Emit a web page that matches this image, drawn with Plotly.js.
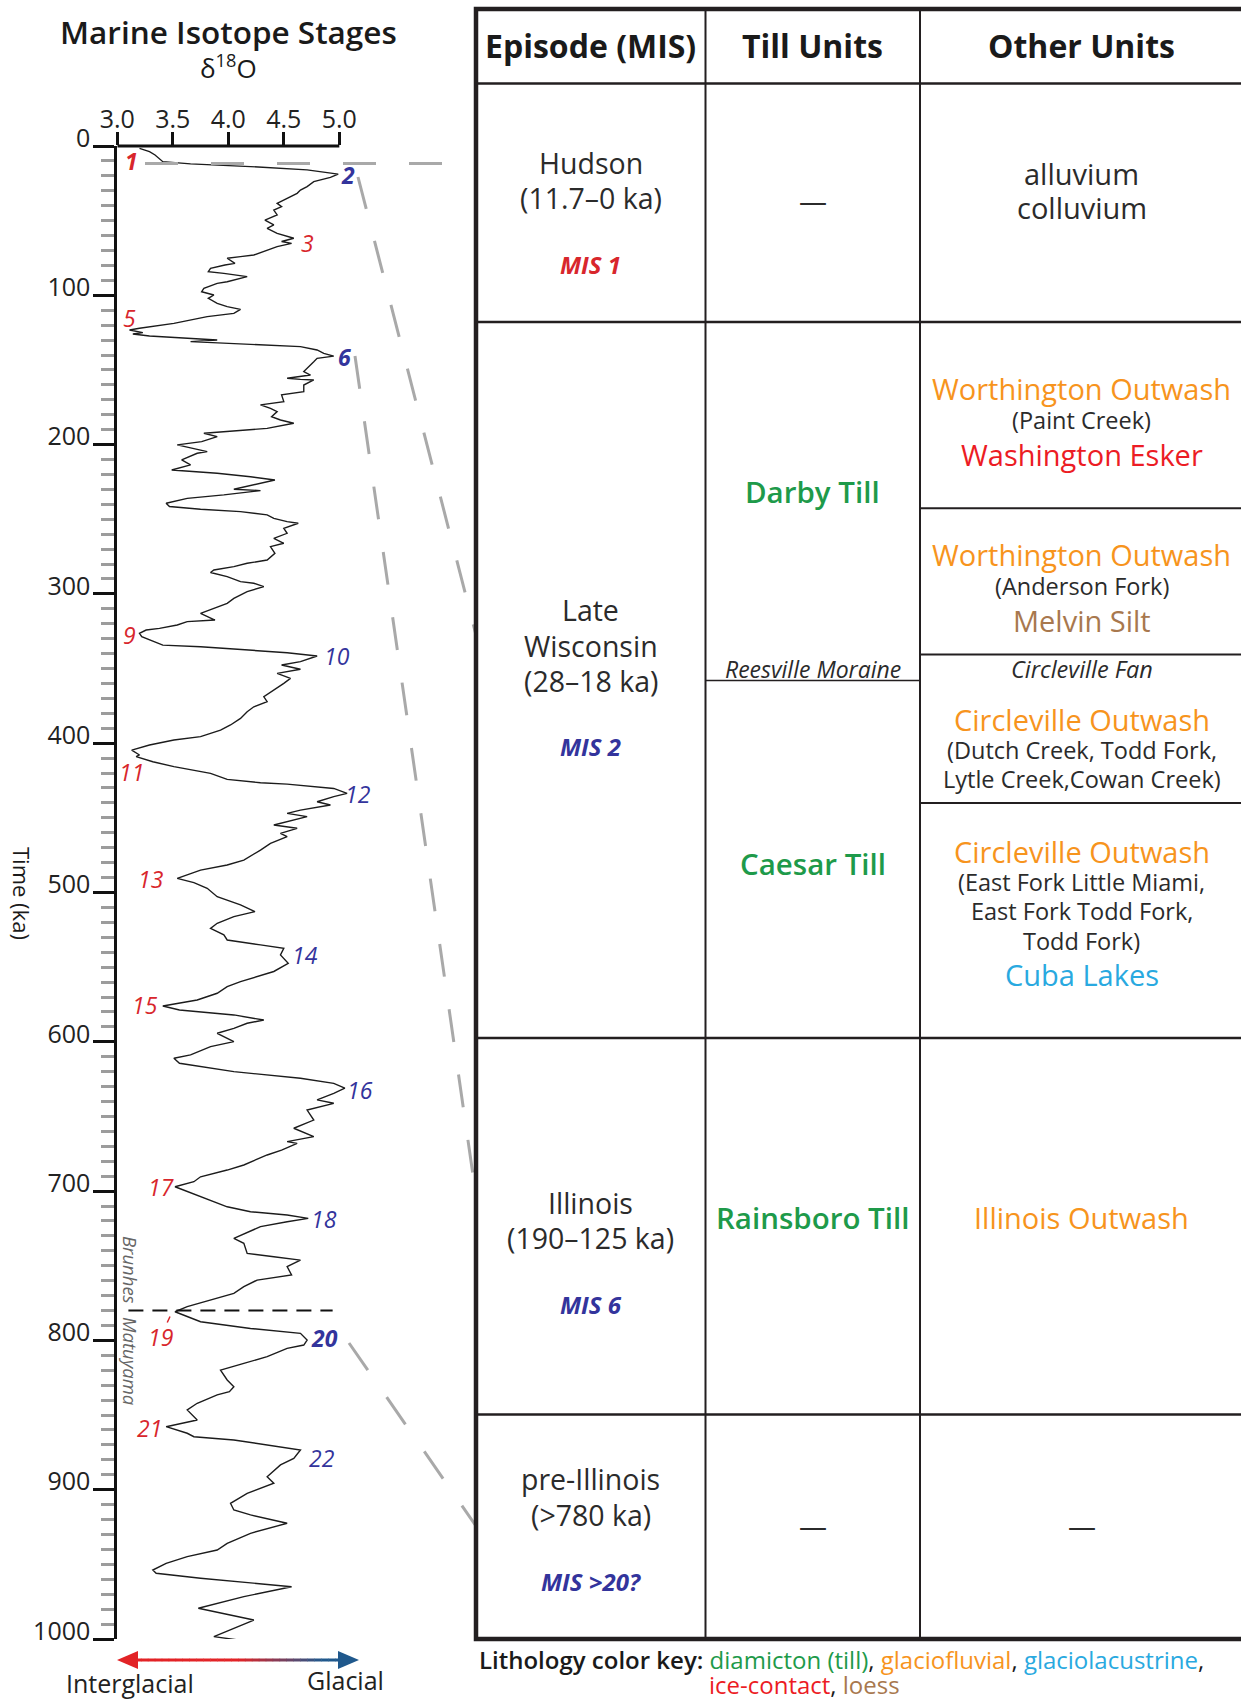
<!DOCTYPE html>
<html>
<head>
<meta charset="utf-8">
<script src="https://cdn.plot.ly/plotly-3.0.1.min.js"></script>
<style>html,body{margin:0;padding:0;background:#fff;}</style>
</head>
<body>
<div id="chart" style="width:1241px;height:1700px;"></div>
<script>
// Benthic δ18O record, 0–1000 ka (age in ka, δ18O in ‰)
const ageKa = [
  1.6,3.8,6.0,9.4,10.5,12.0,13.8,16.0,18.8,21.0,23.9,27.2,29.5,31.7,35.0,37.3,38.4,40.6,42.9,46.2,
  49.6,52.9,55.1,58.5,60.7,61.8,64.0,65.2,67.4,70.8,73.0,74.1,75.2,78.6,79.7,81.9,84.2,85.3,86.4,87.5,
  90.9,92.0,95.3,97.6,99.8,102.0,105.4,107.6,109.4,112.1,114.3,118.8,122.1,123.2,125.0,125.9,127.3,128.8,129.9,131.0,
  132.2,134.4,136.6,138.9,140.7,142.2,144.5,147.8,151.1,153.4,155.6,156.3,156.7,160.1,164.5,166.7,171.2,173.4,175.7,177.9,
  181.3,183.5,185.7,189.1,191.3,192.4,194.7,198.0,200.2,202.5,204.7,205.8,210.3,213.6,217.0,219.2,221.5,223.7,227.0,229.9,
  230.8,233.7,236.0,239.3,241.5,243.3,244.9,247.1,249.4,251.6,252.7,256.1,259.4,262.8,266.1,268.3,272.8,277.3,279.5,281.7,
  284.0,285.7,288.4,291.8,292.9,295.1,298.5,303.0,306.3,310.8,313.0,317.5,318.6,320.8,323.1,324.2,326.4,328.6,330.9,334.3,
  335.4,337.6,339.4,341.6,345.4,347.6,350.5,353.2,356.6,359.9,364.4,368.9,372.2,375.6,378.9,383.4,387.8,391.2,395.6,397.9,
  401.2,404.6,407.9,409.0,412.4,415.7,420.2,424.2,426.5,427.4,430.3,433.6,435.8,439.2,441.4,444.8,447.0,449.2,454.8,457.0,
  460.4,462.6,467.1,471.6,478.3,481.6,485.0,490.5,493.4,497.2,502.8,508.3,512.8,516.2,520.6,524.0,528.4,531.8,535.1,537.4,
  541.8,547.4,552.9,556.3,559.7,563.1,567.5,572.0,574.2,576.0,578.7,582.0,585.4,587.6,591.0,594.3,599.9,603.2,608.8,611.0,
  614.4,620.0,624.4,627.8,631.1,634.5,638.9,641.2,645.7,652.4,657.9,663.5,666.9,668.0,672.5,675.8,682.5,685.9,690.4,693.7,
  697.1,703.8,710.5,713.8,716.0,718.3,720.5,723.8,731.7,735.0,741.7,744.0,746.2,750.6,756.2,759.6,764.0,768.5,773.0,777.4,
  780.8,784.1,787.5,792.0,795.3,799.8,803.1,805.3,810.9,815.4,819.9,826.5,831.0,834.3,836.5,842.1,846.6,853.3,857.8,862.2,
  864.5,866.7,873.4,879.0,883.4,891.3,895.7,902.4,909.1,913.6,916.9,922.5,929.2,935.9,940.4,944.8,949.3,953.8,956.0,959.3,
  965.0,971.6,979.4,987.3,998.4,1002.0
];
const d18O = [
  3.20,3.29,3.34,3.40,3.41,3.66,4.20,4.71,4.99,4.92,4.77,4.71,4.65,4.62,4.53,4.47,4.44,4.48,4.41,4.44,
  4.33,4.41,4.35,4.44,4.53,4.59,4.48,4.57,4.44,4.32,4.23,4.11,3.99,4.06,3.97,3.84,3.82,3.96,4.05,4.17,
  3.99,3.90,3.78,3.76,3.87,3.82,3.90,3.99,4.11,4.05,3.81,3.51,3.20,3.11,3.23,3.14,3.29,3.69,3.90,3.66,
  3.99,4.65,4.80,4.86,4.95,4.80,4.77,4.72,4.68,4.74,4.53,4.65,4.77,4.68,4.68,4.48,4.50,4.29,4.38,4.44,
  4.39,4.47,4.59,4.35,3.99,3.78,3.90,3.76,3.54,3.69,3.81,3.72,3.58,3.66,3.49,3.90,4.20,4.42,4.23,4.05,
  4.29,3.96,3.63,3.44,3.47,3.75,4.11,4.35,4.41,4.53,4.63,4.50,4.53,4.41,4.50,4.38,4.42,4.35,4.17,4.05,
  3.87,3.84,3.99,4.11,4.23,4.32,4.17,4.05,3.99,3.84,3.75,3.88,3.63,3.54,3.38,3.26,3.20,3.22,3.29,3.41,
  3.75,4.20,4.53,4.80,4.65,4.48,4.65,4.44,4.56,4.50,4.41,4.32,4.35,4.23,4.17,4.11,4.02,3.93,3.75,3.51,
  3.29,3.13,3.20,3.17,3.32,3.51,3.84,3.99,4.29,4.53,4.95,5.07,4.95,4.80,4.92,4.65,4.53,4.71,4.41,4.62,
  4.47,4.53,4.38,4.29,4.14,3.99,3.75,3.54,3.69,3.81,3.90,4.11,4.24,4.05,3.90,3.84,3.96,3.99,4.29,4.50,
  4.47,4.54,4.41,4.26,4.11,3.99,3.90,3.72,3.54,3.41,3.56,4.05,4.32,4.17,4.05,3.90,4.05,3.84,3.66,3.51,
  3.56,4.05,4.65,4.95,5.05,4.95,4.80,4.95,4.71,4.77,4.59,4.77,4.53,4.62,4.48,4.35,4.14,3.99,3.75,3.69,
  3.52,3.75,3.99,4.20,4.53,4.72,4.53,4.29,4.05,4.14,4.17,4.41,4.65,4.53,4.57,4.26,4.14,4.05,3.84,3.63,
  3.52,3.63,3.75,4.20,4.65,4.71,4.68,4.53,4.35,4.14,3.93,3.99,4.05,4.01,3.90,3.72,3.63,3.72,3.44,3.63,
  3.69,4.05,4.65,4.59,4.47,4.35,4.41,4.17,4.02,4.05,4.20,4.53,4.20,3.99,3.90,3.63,3.44,3.32,3.35,3.75,
  4.57,4.14,3.73,4.23,3.87,4.22
];

// Marine isotope stage labels placed beside the curve
const misStage = ['1','2','3','5','6','9','10','11','12','13','14','15','16','17','18','19','20','21','22'];
const misAge   = [9.8,19.4,65.2,115.4,141.1,327.5,341.6,419.1,434.0,491.2,541.9,575.3,632.3,697.0,718.9,797.5,798.6,858.9,879.0];
const misX     = [3.13,5.08,4.71,3.11,5.05,3.11,4.98,3.13,5.17,3.30,4.69,3.25,5.19,3.39,4.86,3.39,4.87,3.29,4.84];
const misBold  = ['1','2','6','20'];

// Axis ticks
const xTickVals = [3.0, 3.5, 4.0, 4.5, 5.0];
const xTickText = ['3.0', '3.5', '4.0', '4.5', '5.0'];
const yTickVals = [0,100,200,300,400,500,600,700,800,900,1000];

// Geomagnetic reversal (Brunhes–Matuyama) and Hudson onset, ka
const brunhesMatuyamaKa = 780;
const hudsonStartKa = 11.7;

// Table content
const headers = ['Episode (MIS)', 'Till Units', 'Other Units'];
const episodeLines = [['Hudson', '(11.7–0 ka)'], ['Late', 'Wisconsin', '(28–18 ka)'], ['Illinois', '(190–125 ka)'], ['pre-Illinois', '(>780 ka)']];
const episodeMIS = ['MIS 1', 'MIS 2', 'MIS 6', 'MIS >20?'];
const tillUnits = ['Darby Till', 'Caesar Till', 'Rainsboro Till'];
const tillMarker = 'Reesville Moraine';
const otherUnits = [
  ['alluvium', 'colluvium'],
  ['Worthington Outwash', '(Paint Creek)', 'Washington Esker'],
  ['Worthington Outwash', '(Anderson Fork)', 'Melvin Silt'],
  ['Circleville Fan', 'Circleville Outwash', '(Dutch Creek, Todd Fork,', 'Lytle Creek,Cowan Creek)'],
  ['Circleville Outwash', '(East Fork Little Miami,', 'East Fork Todd Fork,', 'Todd Fork)', 'Cuba Lakes'],
  ['Illinois Outwash']
];
const keyLabel = 'Lithology color key:';
const keyItems = ['diamicton (till)', 'glaciofluvial', 'glaciolacustrine', 'ice-contact', 'loess'];

// ---- drawing ----
const W = 1241, H = 1700;
const px = x => x / W;
const py = y => 1 - y / H;
const FONT = 'Open Sans, Noto Sans, sans-serif';
const RED = '#d8262c', BLUE = '#33349c';
const C = {till: '#1e9a4a', fluvial: '#f7941d', lacustrine: '#29a9e0', ice: '#ec1c24', loess: '#a8784e', text: '#2b2b2b'};

const X0 = 117.3, XPU = 111;            // x pixel of 3.0 and pixels per ‰
const xMax = 5.3;

const annotations = [];
function txt(x, y, text, size, color, opt) {
  opt = opt || {};
  annotations.push(Object.assign({
    xref: 'paper', yref: 'paper', x: px(x), y: py(y), text: text, showarrow: false,
    xanchor: 'center', yanchor: 'middle',
    font: {family: FONT, size: size, color: color, weight: opt.weight || 400, style: opt.style || 'normal'}
  }, opt.extra || {}));
}

// Titles of the isotope panel
txt(229, 32, 'Marine Isotope Stages', 31.5, '#1a1a1a', {weight: 600});
txt(229, 67, 'δ<sup>18</sup>O', 26, '#1a1a1a');
txt(22, 893, 'Time (ka)', 22, '#1a1a1a', {extra: {textangle: 90}});

// MIS labels along the curve
misStage.forEach((s, i) => {
  const odd = parseInt(s, 10) % 2 === 1;
  annotations.push({
    xref: 'x', yref: 'y', x: misX[i], y: misAge[i], text: s, showarrow: false,
    xanchor: 'center', yanchor: 'middle',
    font: {family: FONT, size: 23, color: odd ? RED : BLUE, style: 'italic', weight: misBold.includes(s) ? 700 : 400}
  });
});

// Brunhes / Matuyama
txt(131, 1270, 'Brunhes', 18.5, '#666', {style: 'italic', extra: {textangle: 90}});
txt(131, 1361, 'Matuyama', 18.5, '#666', {style: 'italic', extra: {textangle: 90}});

// Interglacial / Glacial
txt(130, 1683, 'Interglacial', 25, '#222');
txt(345, 1680, 'Glacial', 25, '#222');

const shapes = [];
function line(x0, y0, x1, y1, w, color, dash) {
  shapes.push({type: 'line', xref: 'paper', yref: 'paper', x0: px(x0), y0: py(y0), x1: px(x1), y1: py(y1),
    line: {width: w, color: color, dash: dash || 'solid'}});
}

// top axis line from 3.0 to 5.0
shapes.push({type: 'line', xref: 'x', yref: 'paper', x0: 3, x1: 5, y0: py(146), y1: py(146), line: {width: 3, color: '#111'}});

// Brunhes–Matuyama boundary
shapes.push({type: 'line', xref: 'x', yref: 'y', x0: 3.1, x1: 4.94, y0: brunhesMatuyamaKa, y1: brunhesMatuyamaKa,
  line: {width: 2, color: '#111', dash: '15px,9px'}});
// leader for stage 19
shapes.push({type: 'line', xref: 'x', yref: 'y', x0: 3.45, x1: 3.475, y0: 788, y1: 784, line: {width: 1.5, color: RED}});

// connectors between the curve and the table
const GRAY = '#a9a9a9', DASH = '33px,33px';
shapes.push({type: 'line', xref: 'paper', yref: 'y', x0: px(145), x1: px(476), y0: hudsonStartKa, y1: hudsonStartKa,
  line: {width: 3, color: GRAY, dash: DASH}});
line(358, 177, 476, 635, 3, GRAY, DASH);
line(355, 356, 476, 1196, 3, GRAY, DASH);
line(349, 1343, 476, 1526, 3, GRAY, DASH);

// Interglacial → Glacial gradient arrow
(function () {
  const xa = 134, xb = 342, yA = 1660, n = 30;
  const r = [226, 35, 38], b = [31, 88, 140];
  for (let i = 0; i < n; i++) {
    const t = (i + 0.5) / n;
    const u = Math.min(1, Math.max(0, (t - 0.5) / 0.4));
    const c = r.map((v, k) => Math.round(v + (b[k] - v) * u));
    line(xa + (xb - xa) * i / n, yA, xa + (xb - xa) * (i + 1) / n + 0.5, yA, 3, 'rgb(' + c.join(',') + ')');
  }
  const tri = (pts, color) => shapes.push({type: 'path', xref: 'paper', yref: 'paper',
    path: 'M' + pts.map(p => px(p[0]) + ',' + py(p[1])).join(' L') + ' Z', fillcolor: color, line: {width: 0}});
  tri([[117, 1660], [138, 1651], [138, 1669]], 'rgb(226,35,38)');
  tri([[359, 1660], [338, 1651], [338, 1669]], 'rgb(31,88,140)');
})();

// ---- table ----
const TL = 476, TR = 1245, TT = 9, TB = 1639;
const COL1 = 705.5, COL2 = 920;
const HEAD = 83.5;
const ROWS = [322, 1038, 1414.5];
const INK = '#231f20';
line(COL1, TT, COL1, TB, 2, INK);
line(COL2, TT, COL2, TB, 2, INK);
line(TL, HEAD, TR, HEAD, 2.5, INK);
ROWS.forEach(y => line(TL, y, TR, y, 2.5, INK));
line(COL2, 508.3, TR, 508.3, 2, INK);
line(COL2, 654.6, TR, 654.6, 2, INK);
line(COL2, 803, TR, 803, 2, INK);
line(COL1, 680.6, COL2, 680.6, 1.5, INK);
shapes.push({type: 'rect', xref: 'paper', yref: 'paper', x0: px(TL), x1: px(TR), y0: py(TB), y1: py(TT),
  line: {width: 4.5, color: INK}, fillcolor: 'rgba(0,0,0,0)'});

const c1 = (TL + COL1) / 2, c2 = (COL1 + COL2) / 2, c3 = 1081.6;
txt(c1, 45.5, headers[0], 32, '#1a1a1a', {weight: 700});
txt(c2, 45.5, headers[1], 32, '#1a1a1a', {weight: 700});
txt(c3, 45.5, headers[2], 32, '#1a1a1a', {weight: 700});

const epY = [[162.6, 198.3], [610.2, 646, 680.6], [1203, 1237.7], [1479.4, 1515]];
const misY = [264.4, 746.7, 1304.9, 1581.3];
episodeLines.forEach((lines, i) => {
  lines.forEach((s, j) => txt(c1, epY[i][j], s, 28.5, C.text));
  txt(c1, misY[i], '<i>' + episodeMIS[i] + '</i>', 24, i === 0 ? RED : BLUE, {weight: 700});
});

const BIG = 29, SMALL = 23.5;
txt(c2, 200.5, '—', 28, C.text);
txt(c2, 1525, '—', 28, C.text);
txt(c2, 491, tillUnits[0], 29.5, C.till, {weight: 600});
txt(c2, 668.5, tillMarker, 23, C.text, {style: 'italic'});
txt(c2, 863.8, tillUnits[1], 29.5, C.till, {weight: 600});
txt(c2, 1217, tillUnits[2], 29.5, C.till, {weight: 600});

// Other units
txt(c3, 173.4, otherUnits[0][0], BIG, C.text);
txt(c3, 208, otherUnits[0][1], BIG, C.text);
txt(c3, 389, otherUnits[1][0], BIG, C.fluvial);
txt(c3, 420.5, otherUnits[1][1], SMALL, C.text);
txt(c3, 454, otherUnits[1][2], BIG, C.ice);
txt(c3, 555, otherUnits[2][0], BIG, C.fluvial);
txt(c3, 586.3, otherUnits[2][1], SMALL, C.text);
txt(c3, 620, otherUnits[2][2], BIG, C.loess);
txt(c3, 668.5, otherUnits[3][0], SMALL, C.text, {style: 'italic'});
txt(c3, 719.6, otherUnits[3][1], BIG, C.fluvial);
txt(c3, 750, otherUnits[3][2], SMALL, C.text);
txt(c3, 779.2, otherUnits[3][3], SMALL, C.text);
txt(c3, 851.8, otherUnits[4][0], BIG, C.fluvial);
txt(c3, 882.2, otherUnits[4][1], SMALL, C.text);
txt(c3, 911.5, otherUnits[4][2], SMALL, C.text);
txt(c3, 940.7, otherUnits[4][3], SMALL, C.text);
txt(c3, 974.3, otherUnits[4][4], BIG, C.lacustrine);
txt(c3, 1217, otherUnits[5][0], BIG, C.fluvial);
txt(c3, 1525, '—', 28, C.text);

// Lithology colour key
const sp = (s, c) => '<span style="color:' + c + '">' + s + '</span>';
txt(477, 1659, '<span style="font-weight:600">' + keyLabel + '</span> ' + sp(keyItems[0], C.till) + ', ' +
  sp(keyItems[1], C.fluvial) + ', ' + sp(keyItems[2], C.lacustrine) + ',', 24, '#1a1a1a', {extra: {xanchor: 'left'}});
txt(707, 1684.5, sp(keyItems[3], C.ice) + ', ' + sp(keyItems[4], C.loess), 24, '#1a1a1a', {extra: {xanchor: 'left'}});

const trace = {
  type: 'scatter', mode: 'lines', x: d18O, y: ageKa,
  line: {color: '#1c1c1c', width: 1.4}, hoverinfo: 'skip'
};

const tickFont = {family: FONT, size: 25, color: '#222'};
const layout = {
  width: W, height: H, margin: {l: 0, r: 0, t: 0, b: 0},
  paper_bgcolor: '#fff', plot_bgcolor: 'rgba(0,0,0,0)', showlegend: false,
  xaxis: {
    domain: [px(X0), px(X0 + (xMax - 3) * XPU)], range: [3, xMax], side: 'top',
    tickmode: 'array', tickvals: xTickVals, ticktext: xTickText,
    ticks: 'outside', ticklen: 13, tickwidth: 3, tickcolor: '#111', ticklabelstandoff: -6,
    showline: false, showgrid: false, zeroline: false, tickfont: tickFont, fixedrange: true
  },
  yaxis: {
    domain: [py(1639), py(146)], range: [1000, 0],
    tickmode: 'array', tickvals: yTickVals,
    ticks: 'outside', ticklen: 21, tickwidth: 3, tickcolor: '#111',
    showline: true, linewidth: 3, linecolor: '#111',
    showgrid: false, zeroline: false, tickfont: tickFont, ticklabelshift: 8, ticklabelstandoff: -2,
    minor: {dtick: 10, tick0: 0, ticks: 'outside', ticklen: 13, tickwidth: 3, tickcolor: '#9c9c9c', showgrid: false},
    fixedrange: true
  },
  shapes: shapes,
  annotations: annotations
};

Plotly.newPlot('chart', [trace], layout, {staticPlot: true, displayModeBar: false});
</script>
</body>
</html>
